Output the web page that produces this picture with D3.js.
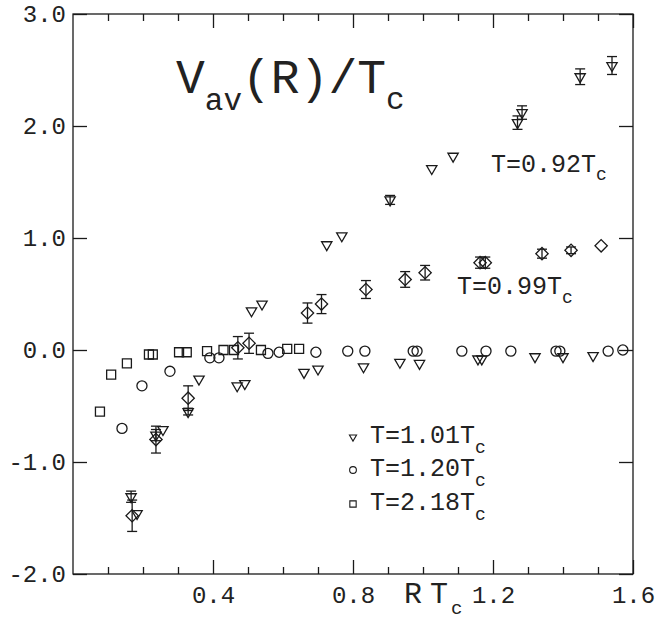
<!DOCTYPE html>
<html>
<head>
<meta charset="utf-8">
<script src="https://cdn.jsdelivr.net/npm/d3@7"></script>
<style>
  html, body { margin: 0; padding: 0; background: #fff; }
  svg { display: block; }
  text { font-family: "Courier New", "Liberation Mono", monospace; fill: #222; }
</style>
</head>
<body>
<svg id="chart" width="658" height="622"></svg>
<script>
// Average potential V_av(R)/T_c versus R*T_c at several temperatures

// T = 0.92 T_c (triangles with error bars)
const rt092 = [0.166, 0.237, 0.329, 0.51, 0.54, 0.725, 0.768, 0.906, 1.025, 1.086, 1.27, 1.283, 1.449, 1.54];
const v092  = [-1.31, -0.76, -0.55, 0.35, 0.41, 0.94, 1.02, 1.34, 1.62, 1.73, 2.03, 2.12, 2.44, 2.54];
const e092  = [0.05, 0.05, 0.03, 0, 0, 0, 0, 0.04, 0, 0, 0.06, 0.06, 0.07, 0.08];

// T = 0.99 T_c (diamonds with error bars)
const rt099 = [0.169, 0.237, 0.329, 0.471, 0.503, 0.67, 0.71, 0.837, 0.949, 1.006, 1.163, 1.178, 1.34, 1.423, 1.509];
const v099  = [-1.48, -0.80, -0.43, 0.02, 0.06, 0.33, 0.41, 0.54, 0.63, 0.69, 0.78, 0.78, 0.86, 0.89, 0.93];
const e099  = [0.14, 0.12, 0.11, 0.10, 0.09, 0.09, 0.085, 0.08, 0.07, 0.065, 0.05, 0.05, 0.04, 0.03, 0];

// T = 1.01 T_c (triangles)
const rt101 = [0.183, 0.257, 0.36, 0.469, 0.491, 0.66, 0.70, 0.83, 0.934, 0.99, 1.157, 1.168, 1.32, 1.40, 1.486];
const v101  = [-1.46, -0.71, -0.26, -0.32, -0.30, -0.20, -0.17, -0.15, -0.11, -0.12, -0.08, -0.08, -0.06, -0.06, -0.05];

// T = 1.20 T_c (circles)
const rt120 = [0.14, 0.197, 0.277, 0.391, 0.417, 0.557, 0.589, 0.694, 0.785, 0.834, 0.972, 0.983, 1.111, 1.18, 1.251, 1.38, 1.391, 1.529, 1.571];
const v120  = [-0.70, -0.32, -0.19, -0.07, -0.07, -0.03, -0.02, -0.02, -0.01, -0.01, -0.01, -0.01, -0.01, -0.01, -0.01, -0.01, -0.01, -0.01, 0.0];

// T = 2.18 T_c (squares)
const rt218 = [0.077, 0.109, 0.154, 0.217, 0.228, 0.303, 0.325, 0.383, 0.43, 0.46, 0.537, 0.612, 0.646];
const v218  = [-0.55, -0.22, -0.12, -0.04, -0.04, -0.02, -0.02, -0.01, 0.0, 0.0, 0.0, 0.01, 0.01];

// Axis ticks
const xMajor = [0.4, 0.8, 1.2, 1.6];
const xMinor = [0.1, 0.2, 0.3, 0.5, 0.6, 0.7, 0.9, 1.0, 1.1, 1.3, 1.4, 1.5];
const yMajor = [-2, -1, 0, 1, 2, 3];

// Legend entries
const legendLabels = ["T=1.01T", "T=1.20T", "T=2.18T"];

const svg = d3.select("#chart");
const x = d3.scaleLinear().domain([0, 1.6]).range([73, 633]);
const y = d3.scaleLinear().domain([-2, 3]).range([574, 14]);

const ink = "#1a1a1a";
const lw = 1.3;

// Frame
svg.append("rect")
  .attr("x", x(0)).attr("y", y(3))
  .attr("width", x(1.6) - x(0)).attr("height", y(-2) - y(3))
  .attr("fill", "none").attr("stroke", ink).attr("stroke-width", lw);

function styleAxis(g) {
  g.select(".domain").remove();
  g.selectAll(".tick line").attr("stroke", ink).attr("stroke-width", lw);
  g.selectAll(".tick text").attr("fill", ink).style("font-size", "24px");
}

// Bottom axis: inward major ticks + labels
svg.append("g").attr("transform", `translate(0,${y(-2)})`)
  .call(d3.axisBottom(x).tickValues(xMajor).tickSize(-14).tickPadding(12).tickFormat(d3.format(".1f")))
  .call(styleAxis);
svg.append("g").attr("transform", `translate(0,${y(-2)})`)
  .call(d3.axisBottom(x).tickValues(xMinor).tickSize(-7).tickFormat(""))
  .call(styleAxis);
// Top axis
svg.append("g").attr("transform", `translate(0,${y(3)})`)
  .call(d3.axisTop(x).tickValues(xMajor).tickSize(-14).tickFormat(""))
  .call(styleAxis);
svg.append("g").attr("transform", `translate(0,${y(3)})`)
  .call(d3.axisTop(x).tickValues(xMinor).tickSize(-7).tickFormat(""))
  .call(styleAxis);
// Left axis
svg.append("g").attr("transform", `translate(${x(0)},0)`)
  .call(d3.axisLeft(y).tickValues(yMajor).tickSize(-14).tickPadding(7).tickFormat(d3.format(".1f")))
  .call(styleAxis);
// Right axis
svg.append("g").attr("transform", `translate(${x(1.6)},0)`)
  .call(d3.axisRight(y).tickValues(yMajor).tickSize(-14).tickFormat(""))
  .call(styleAxis);

// Render the minus sign as a hyphen like the original plot
svg.selectAll(".tick text").text(function() { return d3.select(this).text().replace("\u2212", "-"); });

// Marker shapes
const triDown = d3.symbol().type(d3.symbolTriangle).size(46)();
const smallTri = d3.symbol().type(d3.symbolTriangle).size(22)();
const circ = d3.symbol().type(d3.symbolCircle).size(80)();
const smallCirc = d3.symbol().type(d3.symbolCircle).size(36)();
const sq = d3.symbol().type(d3.symbolSquare).size(81)();
const smallSq = d3.symbol().type(d3.symbolSquare).size(40)();
const diamond = d3.symbol().type(d3.symbolSquare).size(76)();

function errorBars(xs, vs, es) {
  const g = svg.append("g").attr("stroke", ink).attr("stroke-width", lw).attr("fill", "none");
  const data = xs.map((d, i) => ({ r: d, v: vs[i], e: es[i] })).filter(d => d.e > 0);
  data.forEach(d => {
    const cx = x(d.r), y0 = y(d.v - d.e), y1 = y(d.v + d.e);
    g.append("line").attr("x1", cx).attr("x2", cx).attr("y1", y0).attr("y2", y1);
    g.append("line").attr("x1", cx - 5).attr("x2", cx + 5).attr("y1", y0).attr("y2", y0);
    g.append("line").attr("x1", cx - 5).attr("x2", cx + 5).attr("y1", y1).attr("y2", y1);
  });
}

function markers(xs, vs, path, rotate) {
  svg.append("g").selectAll("path")
    .data(xs.map((d, i) => ({ r: d, v: vs[i] })))
    .join("path")
    .attr("d", path)
    .attr("transform", d => `translate(${x(d.r)},${y(d.v)}) rotate(${rotate})`)
    .attr("fill", "none").attr("stroke", ink).attr("stroke-width", lw);
}

errorBars(rt092, v092, e092);
errorBars(rt099, v099, e099);
markers(rt218, v218, sq, 0);
markers(rt120, v120, circ, 0);
markers(rt101, v101, triDown, 180);
markers(rt092, v092, triDown, 180);
markers(rt099, v099, diamond, 45);

// Text helper: a main string followed by a subscript
function subLabel(px, py, main, sub, size, subSize, drop) {
  const t = svg.append("text").attr("x", px).attr("y", py).style("font-size", size + "px");
  t.append("tspan").text(main);
  t.append("tspan").attr("dy", drop).style("font-size", subSize + "px").text(sub);
  return t;
}

// Title
const title = svg.append("text").attr("x", 176).attr("y", 93).style("font-size", "48px");
title.append("tspan").text("V");
title.append("tspan").attr("dy", 17).style("font-size", "31px").text("av");
title.append("tspan").attr("dy", -17).text("(R)/T");
title.append("tspan").attr("dy", 16).style("font-size", "31px").text("c");

// Curve labels
subLabel(491, 172, "T=0.92T", "c", 25, 18, 8);
subLabel(457, 294, "T=0.99T", "c", 25, 18, 9);

// Legend
const legendShapes = [[smallTri, 180], [smallCirc, 0], [smallSq, 0]];
const legendY = [443, 476, 510];
legendLabels.forEach((lab, i) => {
  svg.append("path").attr("d", legendShapes[i][0])
    .attr("transform", `translate(353,${legendY[i] - 6}) rotate(${legendShapes[i][1]})`)
    .attr("fill", "none").attr("stroke", ink).attr("stroke-width", 1.1);
  subLabel(370, legendY[i], lab, "c", 25, 18, 10);
});

// X axis title: "RT" with subscript c
const xt = svg.append("text").attr("y", 603).style("font-size", "30px");
xt.append("tspan").attr("x", 404).text("R");
xt.append("tspan").attr("x", 430).text("T");
xt.append("tspan").attr("x", 451).attr("dy", 11).style("font-size", "19px").text("c");
</script>
</body>
</html>
